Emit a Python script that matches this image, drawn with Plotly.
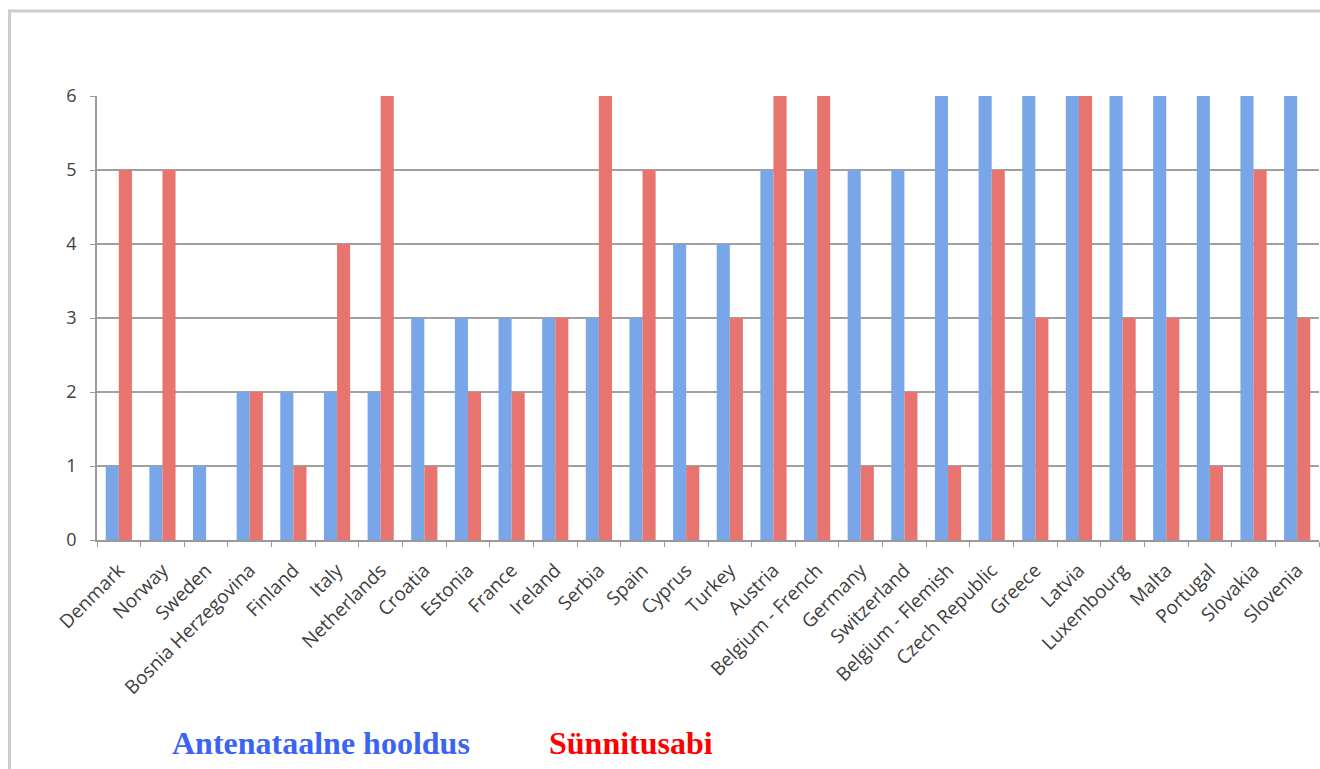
import plotly.graph_objects as go

countries = ["Denmark", "Norway", "Sweden", "Bosnia Herzegovina", "Finland", "Italy",
             "Netherlands", "Croatia", "Estonia", "France", "Ireland", "Serbia", "Spain",
             "Cyprus", "Turkey", "Austria", "Belgium - French", "Germany", "Switzerland",
             "Belgium - Flemish", "Czech Republic", "Greece", "Latvia", "Luxembourg",
             "Malta", "Portugal", "Slovakia", "Slovenia"]
antenatal = [1, 1, 1, 2, 2, 2, 2, 3, 3, 3, 3, 3, 3, 4, 4, 5, 5, 5, 5, 6, 6, 6, 6, 6, 6, 6, 6, 6]
birth = [5, 5, 0, 2, 1, 4, 6, 1, 2, 2, 3, 6, 5, 1, 3, 6, 6, 1, 2, 1, 5, 3, 6, 3, 3, 1, 5, 3]
series_names = ["Antenataalne hooldus", "Sünnitusabi"]
y_ticks = [0, 1, 2, 3, 4, 5, 6]

W, H = 1320, 769
ml, mr, mt, mb = 97, 1, 96, 229

fig = go.Figure()
fig.add_trace(go.Bar(x=countries, y=antenatal, name=series_names[0],
                     marker=dict(color="#78a6e8", line=dict(width=0))))
fig.add_trace(go.Bar(x=countries, y=birth, name=series_names[1],
                     marker=dict(color="#e87470", line=dict(width=0))))

pw = W - ml - mr
ph = H - mt - mb

fig.update_layout(
    width=W, height=H, autosize=False,
    margin=dict(l=ml, r=mr, t=mt, b=mb),
    paper_bgcolor="white", plot_bgcolor="white",
    barmode="group", bargap=0.4, bargroupgap=0,
    showlegend=False,
    font=dict(family="Open Sans, Liberation Sans, sans-serif", color="#404040"),
    xaxis=dict(
        type="category", tickangle=-45,
        tickfont=dict(size=19, color="#404040"),
        showgrid=False, showline=True, linecolor="#9a9a9a", linewidth=1.5,
        ticks="outside", ticklen=5, tickcolor="#9a9a9a",
        tickson="boundaries", range=[-0.5, len(countries) - 0.5],
        ticklabelstandoff=10,
    ),
    yaxis=dict(
        range=[0, 6], tickvals=y_ticks, ticktext=[str(v) for v in y_ticks],
        tickfont=dict(size=18, color="#404040"),
        showgrid=True, gridcolor="#a0a0a0", gridwidth=1.5,
        showline=True, linecolor="#9a9a9a", linewidth=1.5,
        ticks="outside", ticklen=5, tickcolor="#9a9a9a",
        ticklabelstandoff=10, zeroline=False,
    ),
    annotations=[
        dict(text="<b>" + series_names[0] + "</b>", xref="paper", yref="paper",
             x=(170 - ml) / pw, y=-(743 - (H - mb)) / ph, xanchor="left", yanchor="middle",
             showarrow=False, font=dict(family="Liberation Serif, Times New Roman, serif",
                                        size=32, color="#3b64f5")),
        dict(text="<b>" + series_names[1] + "</b>", xref="paper", yref="paper",
             x=(547 - ml) / pw, y=-(743 - (H - mb)) / ph, xanchor="left", yanchor="middle",
             showarrow=False, font=dict(family="Liberation Serif, Times New Roman, serif",
                                        size=32, color="#ff0000")),
    ],
    shapes=[
        dict(type="rect", xref="paper", yref="paper",
             x0=(9.5 - ml) / pw, x1=(W + 20 - ml) / pw,
             y0=-(H + 20 - (H - mb)) / ph, y1=((H - mb) - 11) / ph,
             line=dict(color="#cccccc", width=3), fillcolor="rgba(0,0,0,0)", layer="below"),
    ],
)

fig.write_html("out.html")
